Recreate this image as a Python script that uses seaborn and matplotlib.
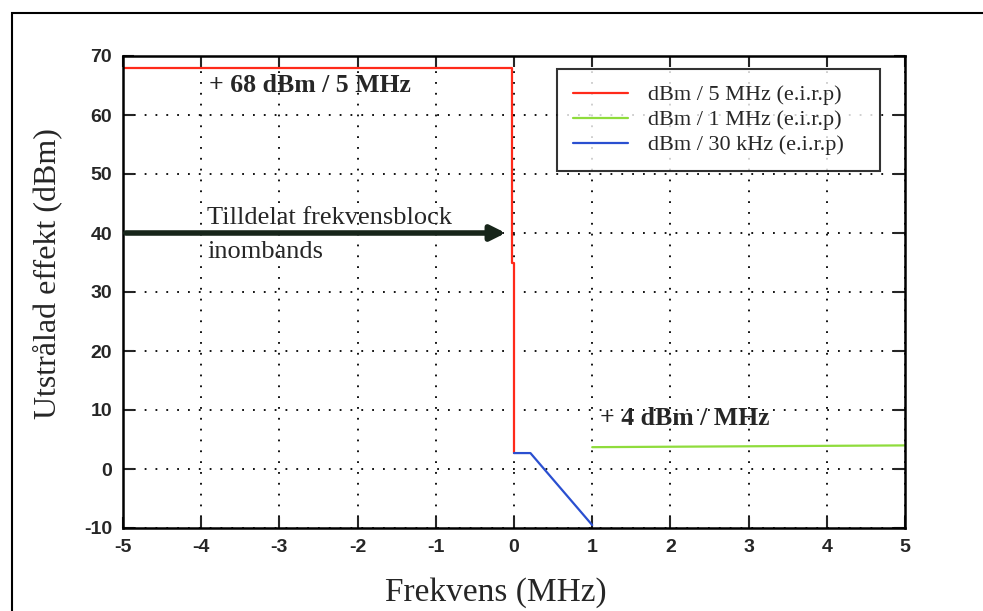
import numpy as np
import pandas as pd
import matplotlib
matplotlib.use("Agg")
import matplotlib.pyplot as plt
from matplotlib.patches import Rectangle
import seaborn as sns

# series
labels = ["dBm / 5 MHz (e.i.r.p)", "dBm / 1 MHz (e.i.r.p)", "dBm / 30 kHz (e.i.r.p)"]
red_x = [-5, -0.03, -0.03, 0.0, 0.0]
red_y = [68, 68, 35, 35, 2.7]
green_x = [1.0, 5.0]
green_y = [3.7, 4.0]
blue_x = [0.0, 0.21, 1.0]
blue_y = [2.7, 2.7, -9.5]
xticks = [-5, -4, -3, -2, -1, 0, 1, 2, 3, 4, 5]
yticks = [-10, 0, 10, 20, 30, 40, 50, 60, 70]
colors = {labels[0]: "#ff2a1a", labels[1]: "#8fdc3c", labels[2]: "#2a4fd0"}

df = pd.concat([
    pd.DataFrame({"f": red_x, "p": red_y, "serie": labels[0]}),
    pd.DataFrame({"f": green_x, "p": green_y, "serie": labels[1]}),
    pd.DataFrame({"f": blue_x, "p": blue_y, "serie": labels[2]}),
], ignore_index=True)

sns.set_style("white")
plt.rcParams["axes.unicode_minus"] = False
serif = ["Liberation Serif", "DejaVu Serif"]
ticksans = ["Liberation Sans Narrow", "Liberation Sans", "DejaVu Sans"]

fig = plt.figure(figsize=(9.83, 6.11), dpi=100)
ax = fig.add_axes([123/983, 1-528/611, (905-123)/983, (528-56)/611])

sns.lineplot(data=df, x="f", y="p", hue="serie", hue_order=labels, palette=colors,
             sort=False, estimator=None, linewidth=1.6, ax=ax)

ax.set_xlim(-5, 5)
ax.set_ylim(-10, 70)
ax.set_xticks(xticks)
ax.set_yticks(yticks)
ax.grid(True, color="black", linestyle=(0, (1, 5)), linewidth=1.3)
for s in ax.spines.values():
    s.set_linewidth(1.8)
    s.set_color("black")
ax.tick_params(direction="in", length=8, width=1.5, top=True, right=True,
               bottom=True, left=True, pad=8)
for t in ax.get_xticklabels() + ax.get_yticklabels():
    t.set_fontfamily(ticksans)
    t.set_fontweight("bold")
    t.set_fontsize(14)

ax.set_xlabel("Frekvens (MHz)", fontfamily=serif, fontsize=24)
ax.set_ylabel("Utstrålad effekt (dBm)", fontfamily=serif, fontsize=23)
ax.xaxis.set_label_coords(0.477, -0.105)
ax.yaxis.set_label_coords(-0.078, 0.54)

leg = ax.legend(loc="upper left", bbox_to_anchor=(0.555, 0.5, 0.413, 0.472), mode="expand",
                prop={"family": serif, "size": 16}, frameon=True, fancybox=False,
                handlelength=2.5, borderpad=0.7, labelspacing=0.2, handletextpad=0.9,
                borderaxespad=0)
leg.get_frame().set_edgecolor("black")
leg.get_frame().set_linewidth(1.5)

ax.annotate("", xy=(-0.07, 40), xytext=(-5, 40),
            arrowprops=dict(arrowstyle="-|>", lw=4, color="#17251a", mutation_scale=22))
ax.text(-3.9, 65, "+ 68 dBm / 5 MHz", fontfamily=serif, fontweight="bold",
        fontsize=18.5, va="center", ha="left")
ax.text(-3.92, 42.6, "Tilldelat frekvensblock", fontfamily=serif, fontsize=19,
        va="center", ha="left")
ax.text(-3.92, 36.7, "inombands", fontfamily=serif, fontsize=19, va="center", ha="left")
ax.text(1.1, 8.5, "+ 4 dBm / MHz", fontfamily=serif, fontweight="bold",
        fontsize=18.5, va="center", ha="left")

# outer frame of the scanned page
fig.add_artist(Rectangle((12/983, -0.05), 1.0, 1-13/611+0.05, transform=fig.transFigure,
                         fill=False, edgecolor="black", linewidth=1.5))

fig.savefig("out.png", dpi=100)
